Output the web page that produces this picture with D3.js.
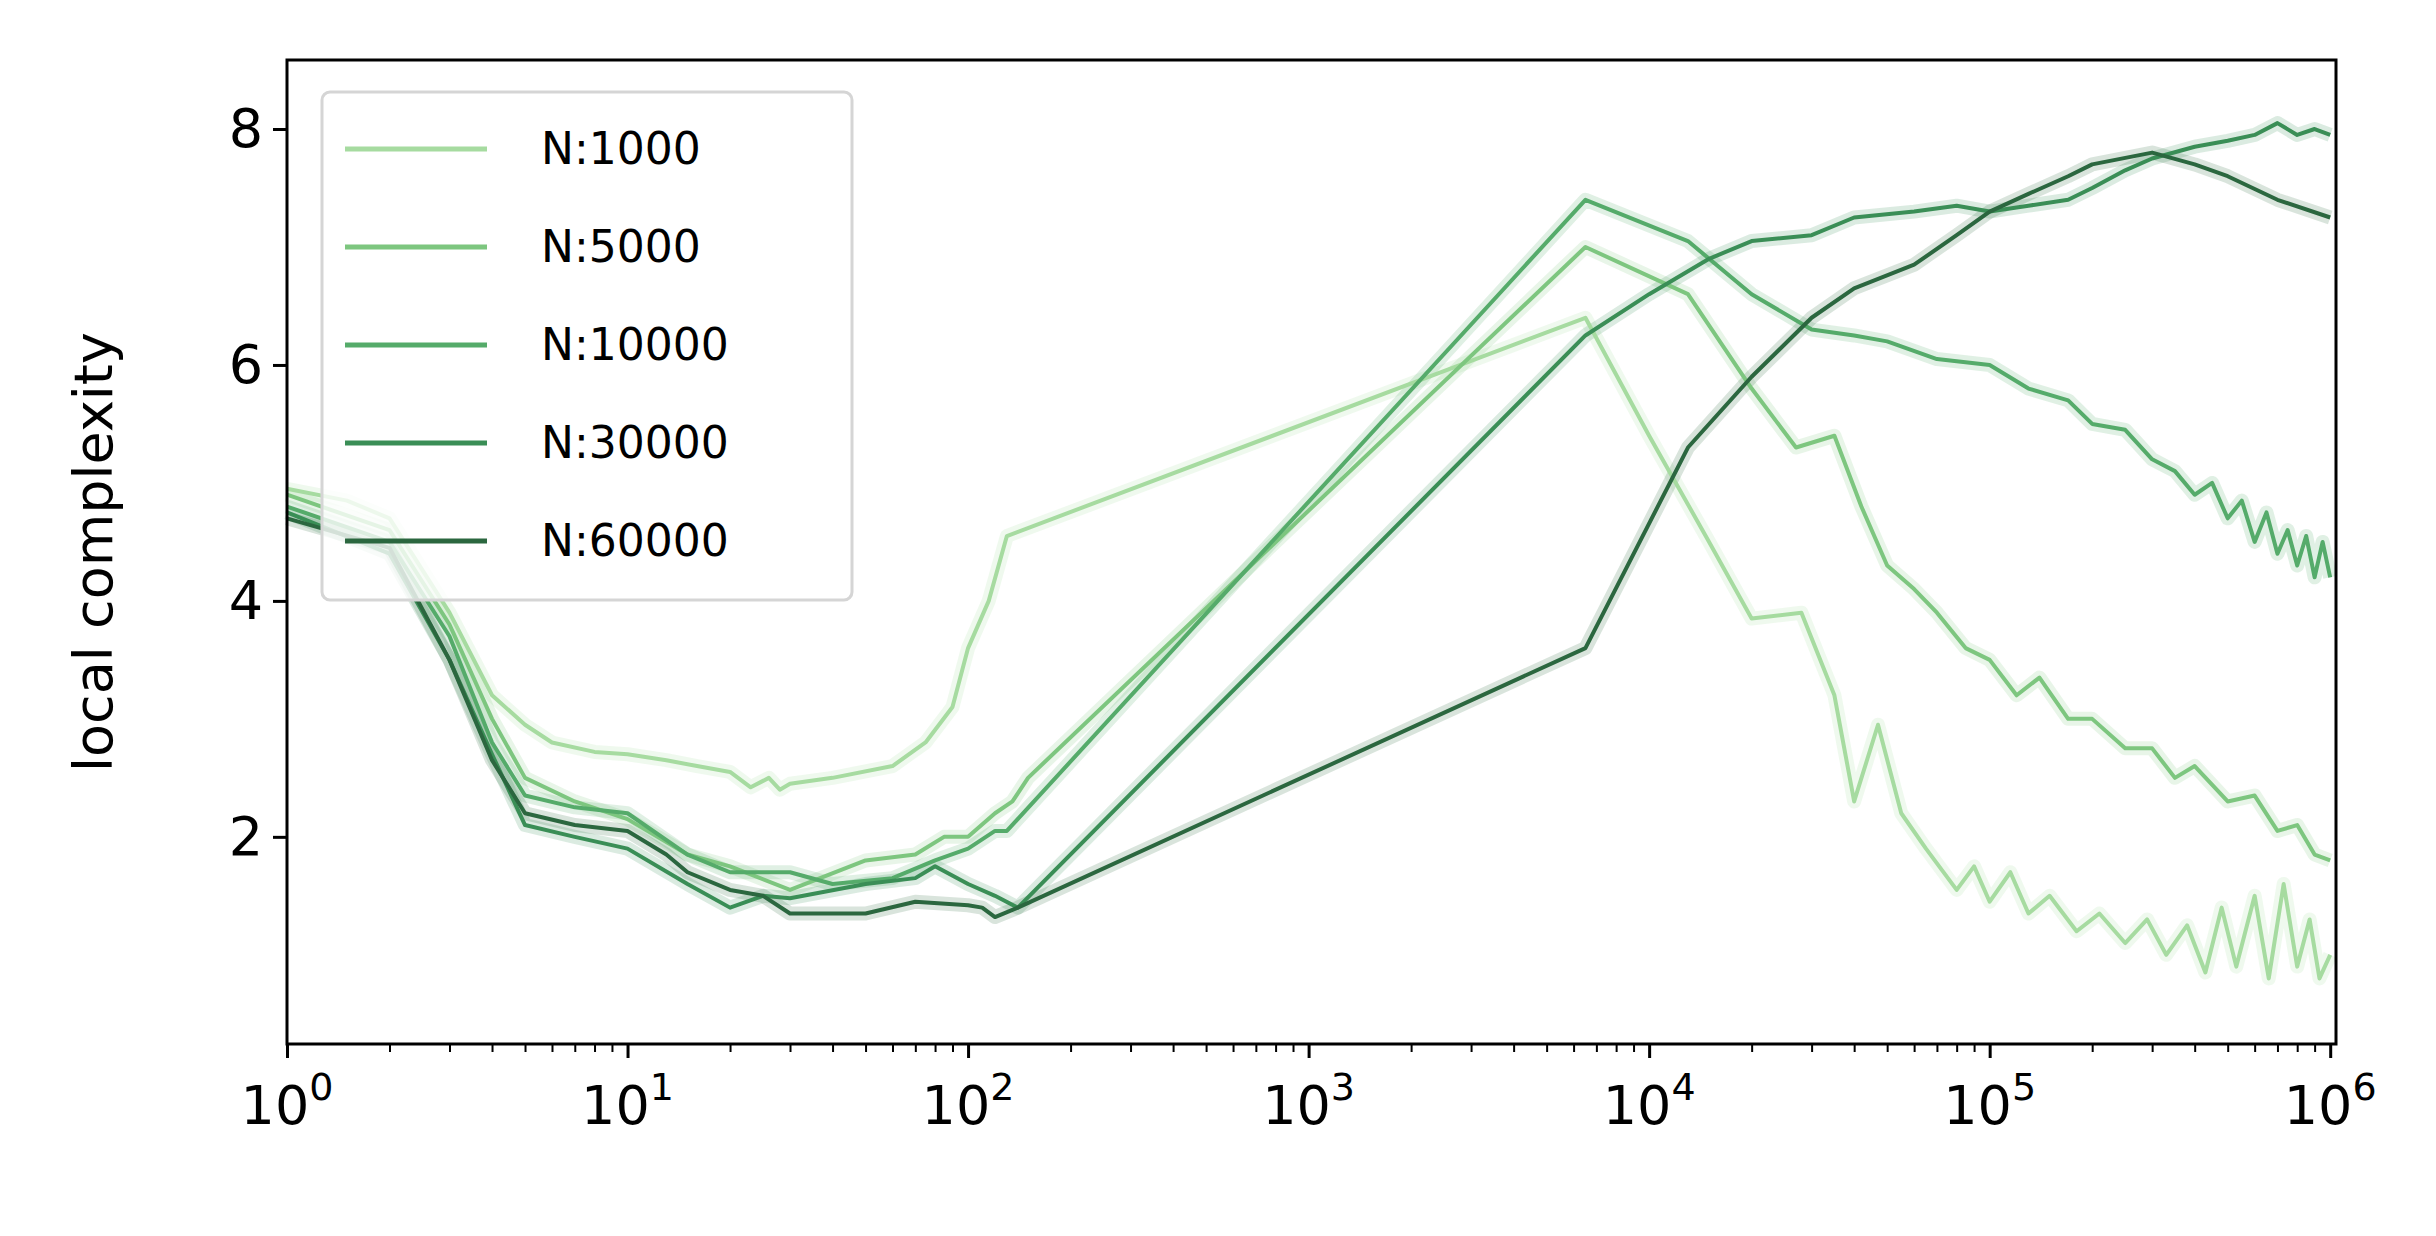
<!DOCTYPE html>
<html><head><meta charset="utf-8">
<script src="https://cdn.jsdelivr.net/npm/d3@7"></script>
<style>body{margin:0;background:#fff}</style>
</head><body><svg id="c" width="2436" height="1236"></svg>
<script>
// series: [x, y] pairs
var labels = ["N:1000", "N:5000", "N:10000", "N:30000", "N:60000"];
var colors = ["#a6dba0", "#7dc67f", "#55ab6a", "#3a8e56", "#2b673f"];
var s1000 = [[1,4.95],[1.5,4.85],[2,4.7],[3,3.9],[4,3.2],[5,2.95],[6,2.8],[8,2.72],[10,2.7],[13,2.65],[16,2.6],[20,2.55],[23,2.42],[26,2.5],[28,2.4],[30,2.45],[40,2.5],[60,2.6],[75,2.8],[90,3.1],[100,3.6],[115,4.0],[130,4.55],[6500,6.4],[10000,5.4],[15000,4.5],[20000,3.85],[28000,3.9],[35000,3.2],[40000,2.3],[47000,2.95],[55000,2.2],[65000,1.9],[80000,1.55],[90000,1.75],[100000,1.45],[115000,1.7],[130000,1.35],[150000,1.5],[180000,1.2],[210000,1.35],[250000,1.1],[290000,1.3],[330000,1.0],[380000,1.25],[430000,0.85],[480000,1.4],[530000,0.9],[600000,1.5],[660000,0.8],[730000,1.6],[800000,0.9],[870000,1.3],[930000,0.8],[1000000,1.0]];
var s5000 = [[1,4.9],[2,4.6],[3,3.8],[4,3.0],[5,2.5],[7,2.3],[10,2.15],[15,1.85],[20,1.75],[30,1.55],[50,1.8],[70,1.85],[85,2.0],[100,2.0],[120,2.2],[135,2.3],[150,2.5],[6500,7.0],[13000,6.6],[20000,5.8],[27000,5.3],[35000,5.4],[42000,4.8],[50000,4.3],[60000,4.1],[70000,3.9],[85000,3.6],[100000,3.5],[120000,3.2],[140000,3.35],[170000,3.0],[200000,3.0],[250000,2.75],[300000,2.75],[350000,2.5],[400000,2.6],[500000,2.3],[600000,2.35],[700000,2.05],[800000,2.1],[900000,1.85],[1000000,1.8]];
var s10000 = [[1,4.8],[2,4.5],[3,3.7],[4,2.8],[5,2.35],[7,2.25],[10,2.2],[15,1.85],[20,1.7],[30,1.7],[40,1.6],[60,1.65],[80,1.8],[100,1.9],[120,2.05],[130,2.05],[6500,7.4],[13000,7.05],[20000,6.6],[30000,6.3],[40000,6.25],[50000,6.2],[70000,6.05],[100000,6.0],[130000,5.8],[170000,5.7],[200000,5.5],[250000,5.45],[300000,5.2],[350000,5.1],[400000,4.9],[450000,5.0],[500000,4.7],[550000,4.85],[600000,4.5],[650000,4.75],[700000,4.4],[750000,4.6],[800000,4.3],[850000,4.55],[900000,4.2],[950000,4.5],[1000000,4.2]];
var s30000 = [[1,4.75],[2,4.4],[3,3.5],[4,2.7],[5,2.1],[7,2.0],[10,1.9],[15,1.6],[20,1.4],[25,1.5],[30,1.48],[50,1.6],[70,1.65],[80,1.75],[100,1.6],[120,1.5],[140,1.4],[6500,6.25],[10000,6.6],[15000,6.9],[20000,7.05],[30000,7.1],[40000,7.25],[60000,7.3],[80000,7.35],[100000,7.3],[130000,7.35],[170000,7.4],[200000,7.5],[250000,7.65],[300000,7.75],[400000,7.85],[500000,7.9],[600000,7.95],[700000,8.05],[800000,7.95],[900000,8.0],[1000000,7.95]];
var s60000 = [[1,4.7],[2,4.45],[3,3.5],[4,2.65],[5,2.2],[7,2.1],[10,2.05],[13,1.85],[15,1.7],[20,1.55],[25,1.5],[30,1.35],[50,1.35],[70,1.45],[100,1.42],[110,1.4],[120,1.32],[140,1.4],[6500,3.6],[13000,5.3],[20000,5.9],[30000,6.4],[40000,6.65],[60000,6.85],[80000,7.1],[100000,7.3],[130000,7.45],[170000,7.6],[200000,7.7],[300000,7.8],[400000,7.7],[500000,7.6],[700000,7.4],[1000000,7.25]];
var series = [s1000, s5000, s10000, s30000, s60000];
var yTicks = [2, 4, 6, 8];

var svg = d3.select("#c");
var pLeft = 287, pRight = 2336, pTop = 60, pBottom = 1044;
var x = d3.scaleLog().domain([1, 1.04e6]).range([pLeft, pRight]);
var y = d3.scaleLinear().domain([0.244, 8.585]).range([pBottom, pTop]);

var line = d3.line().x(function(d){ return x(d[0]); }).y(function(d){ return y(d[1]); });

// faint bands then lines
series.forEach(function(s, i){
    svg.append("path").attr("d", line(s)).attr("fill","none")
        .attr("stroke", colors[i]).attr("stroke-opacity", 0.18).attr("stroke-width", 14)
        .attr("stroke-linejoin","round");
});
series.forEach(function(s, i){
    svg.append("path").attr("d", line(s)).attr("fill","none")
        .attr("stroke", colors[i]).attr("stroke-width", 4)
        .attr("stroke-linejoin","round");
});

// axes
var font = "DejaVu Sans";
var xAxis = svg.append("g").attr("transform","translate(0,"+pBottom+")")
    .call(d3.axisBottom(x).tickValues(x.ticks()).tickFormat("").tickSizeInner(8).tickSizeOuter(0));
var maj = [1,10,100,1000,1e4,1e5,1e6];
xAxis.selectAll(".tick line").attr("y2", function(d){ return maj.indexOf(d) >= 0 ? 14 : 8; })
    .attr("stroke","#000").attr("stroke-width", function(d){ return maj.indexOf(d) >= 0 ? 3 : 2; });
xAxis.select(".domain").remove();
var xl = svg.append("g");
maj.forEach(function(v, k){
    var t = xl.append("text").attr("x", x(v)).attr("y", pBottom + 80)
        .attr("text-anchor","middle").attr("font-family", font).attr("font-size", 54);
    t.append("tspan").text("10");
    t.append("tspan").attr("dy", -24).attr("font-size", 38).text(k);
});

var yAxis = svg.append("g").attr("transform","translate("+pLeft+",0)")
    .call(d3.axisLeft(y).tickValues(yTicks).tickSizeInner(14).tickSizeOuter(0).tickPadding(10));
yAxis.select(".domain").remove();
yAxis.selectAll(".tick line").attr("stroke-width", 3);
yAxis.selectAll("text").attr("font-family", font).attr("font-size", 54).attr("fill","#000");

svg.append("rect").attr("x", pLeft).attr("y", pTop).attr("width", pRight-pLeft).attr("height", pBottom-pTop)
    .attr("fill","none").attr("stroke","#000").attr("stroke-width", 3);

svg.append("text").attr("transform","translate(112,"+((pTop+pBottom)/2)+") rotate(-90)")
    .attr("text-anchor","middle").attr("font-family", font).attr("font-size", 54).text("local complexity");

// legend
var lg = svg.append("g");
lg.append("rect").attr("x", 322).attr("y", 92).attr("width", 530).attr("height", 508).attr("rx", 8)
    .attr("fill","#fff").attr("fill-opacity",0.8).attr("stroke","#d5d5d5").attr("stroke-width",3);
labels.forEach(function(l, i){
    var yy = 149 + i * 98;
    lg.append("line").attr("x1", 345).attr("x2", 487).attr("y1", yy).attr("y2", yy)
        .attr("stroke", colors[i]).attr("stroke-width", 5);
    lg.append("text").attr("x", 541).attr("y", yy + 15).attr("font-family", font).attr("font-size", 44).text(l);
});
</script></body></html>
